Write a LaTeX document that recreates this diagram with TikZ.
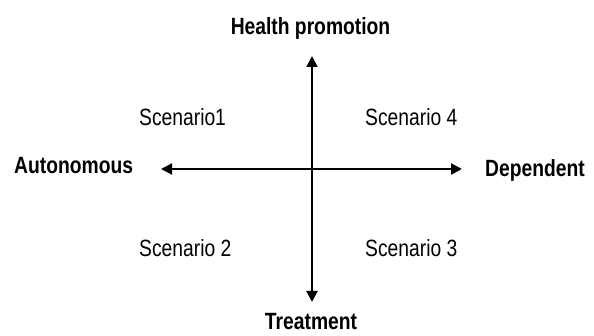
\documentclass[tikz,border=0pt]{standalone}
\usepackage{fontspec}
\setmainfont{Liberation Sans}[FakeStretch=0.82]
\usetikzlibrary{arrows.meta}

\begin{document}
\begin{tikzpicture}[x=1pt,y=-1pt,
  axislabel/.style={font=\fontsize{23.5}{28}\selectfont\bfseries, inner sep=0pt},
  scenlabel/.style={font=\fontsize{23.5}{28}\selectfont, inner sep=0pt, anchor=base west},
  axisline/.style={line width=2pt, {Triangle[length=11pt,width=11pt]}-{Triangle[length=11pt,width=11pt]}}]

\useasboundingbox (0,0) rectangle (594,336);

% ends of the two axes
\coordinate (top) at (312,56);
\coordinate (bottom) at (312,302);
\coordinate (left) at (161,169);
\coordinate (right) at (462,169);

% axes
\draw[axisline] (bottom) -- (top);
\draw[axisline] (left) -- (right);

% Labels for the axes
\node[axislabel, anchor=base] (health) at (310.5,35) {Health promotion};
\node[axislabel, anchor=base] (treat) at (311,330) {Treatment};
\node[axislabel, anchor=base west] (auto) at (14,174) {Autonomous};
\node[axislabel, anchor=base west] (dep) at (485,177) {Dependent};

% Labels for quadrants
\node[scenlabel] (sc1) at (139,126) {Scenario1};
\node[scenlabel] (sc4) at (365,126) {Scenario 4};
\node[scenlabel] (sc2) at (139,257) {Scenario 2};
\node[scenlabel] (sc3) at (365,257) {Scenario 3};
\end{tikzpicture}
\end{document}
